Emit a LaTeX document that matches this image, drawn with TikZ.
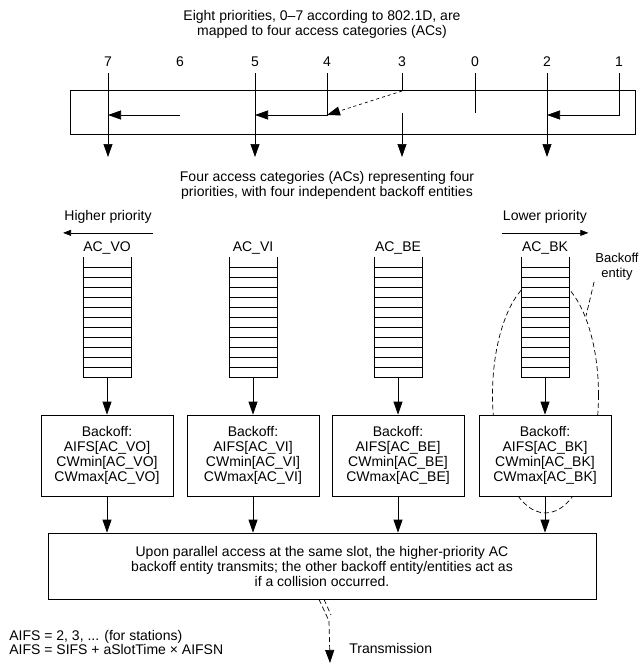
\documentclass[tikz,border=0pt]{standalone}
\usepackage{fontspec}
\setmainfont{Liberation Sans}
\usetikzlibrary{arrows.meta}

\tikzset{
  tip/.style={-{Triangle[length=13pt,width=9pt]}},
  small tip/.style={-{Triangle[length=8pt,width=6pt]}},
  entity line/.style={dash pattern=on 5pt off 3pt},
  bobox/.style={draw, fill=white, minimum width=132pt, minimum height=81pt, align=center},
}

\begin{document}
\begin{tikzpicture}[x=1pt, y=-1pt, line width=0.7pt,
    every node/.style={font=\fontsize{14}{15}\selectfont, inner sep=1pt}]
    \useasboundingbox (0,0) rectangle (643,666);

    % Backoff entity outline (boxes drawn later cover it)
    \draw[entity line] (545.5,395) ellipse [x radius=53pt, y radius=118pt];

    % 802.1D priorities mapped to ACs
    \node[align=center] (title) at (322,24.5)
        {Eight priorities, 0--7 according to 802.1D, are\\mapped to four access categories (ACs)};
    \node[draw, minimum width=565pt, minimum height=44pt] (map) at (352.5,112) {};
    \foreach \p/\x in {7/108,6/180,5/255,4/327,3/402,0/475,2/547,1/619}
        \node[inner sep=6pt] (p\p) at (\x,62) {\p};

    \coordinate (m6) at (180,115);
    \coordinate (row) at (0,157);
    \coordinate (cut) at (0,113);
    \coordinate (top3) at (402,91);

    \draw[tip] (p7.south) -- (p7 |- row);
    \draw[tip] (m6) -- (p7 |- m6);
    \draw[tip] (p5.south) -- (p5 |- row);
    \draw[tip] (p4.south) |- (p5 |- m6);
    \draw (p3.south) -- (top3);
    \draw[tip, dashed] (top3) -- (p4 |- m6);
    \draw[tip] (p3 |- cut) -- (p3 |- row);
    \draw (p0.south) -- (p0 |- cut);
    \draw[tip] (p2.south) -- (p2 |- row);
    \draw[tip] (p1.south) |- (p2 |- m6);

    % Four access categories
    \node[align=center] (four) at (327,185.5)
        {Four access categories (ACs) representing four\\priorities, with four independent backoff entities};

    \node (hi) at (108,217) {Higher priority};
    \draw[small tip] ([yshift=-8pt]hi.south east) -- ([yshift=-8pt]hi.south west);
    \node (lo) at (545,217) {Lower priority};
    \draw[small tip] ([yshift=-8pt]lo.south west) -- ([yshift=-8pt]lo.south east);

    \foreach \x/\ac in {107/VO,253/VI,398/BE,545/BK} {
        \node (q\ac) at (\x,248) {AC\_\ac};
        \fill[white] (\x-24,257) rectangle (\x+24,377);
        \draw (\x-24,257) -- (\x-24,377) -- (\x+24,377) -- (\x+24,257);
        \foreach \y in {267,277,...,367}
            \draw (\x-24,\y) -- (\x+24,\y);
        \coordinate (e\ac) at (\x,377);
        \node[bobox] (b\ac) at (\x,455.5)
            {Backoff:\\AIFS[AC\_\ac]\\CWmin[AC\_\ac]\\CWmax[AC\_\ac]};
        \draw[tip] (e\ac) -- (b\ac);
    }

    % Backoff entity label
    \node[align=center, font=\fontsize{13}{15}\selectfont] (be) at (617,267) {Backoff\\entity};
    \coordinate (rim) at (586,316);
    \draw[entity line] (be.south west) -- (rim);

    % Collision handling
    \node[draw, fill=white, minimum width=548pt, minimum height=66pt, align=center] (coll) at (322,566)
        {Upon parallel access at the same slot, the higher-priority AC\\
         backoff entity transmits; the other backoff entity/entities act as\\
         if a collision occurred.};
    \foreach \ac in {VO,VI,BE,BK}
        \draw[tip] (b\ac) -- (b\ac |- coll.north);

    % Transmission
    \coordinate (bend) at (329,621);
    \coordinate (tx) at (330,663);
    \draw[entity line] ([xshift=-3pt]coll.south) -- (bend);
    \draw[entity line] ([xshift=2pt]coll.south) -- (331,615);
    \draw[entity line, tip] (bend) -- (tx);
    \node[anchor=west] (trans) at (348,648) {Transmission};

    \node[anchor=west, align=left, font=\fontsize{14}{12.5}\selectfont] (aifs) at (8,642.5)
        {AIFS = 2, 3, ... (for stations)\\AIFS = SIFS + aSlotTime × AIFSN};
\end{tikzpicture}
\end{document}
